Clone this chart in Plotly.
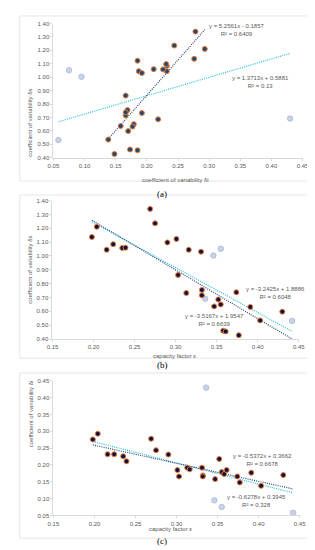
import plotly.graph_objects as go

# ---- data ----
# main stations
eps = [0.198, 0.204, 0.216, 0.224, 0.235, 0.239, 0.269, 0.275, 0.290, 0.301, 0.303, 0.313, 0.316,
       0.331, 0.332, 0.332, 0.347, 0.352, 0.355, 0.358, 0.361, 0.374, 0.377, 0.391, 0.403, 0.430]
delta_s = [1.137, 1.211, 1.045, 1.085, 1.058, 1.060, 1.340, 1.236, 1.098, 1.123, 0.863, 0.733, 1.045,
           1.031, 0.755, 0.716, 0.636, 0.686, 0.650, 0.461, 0.455, 0.738, 0.428, 0.632, 0.535, 0.598]
delta_i = [0.276, 0.293, 0.232, 0.232, 0.226, 0.211, 0.278, 0.244, 0.231, 0.185, 0.166, 0.192, 0.187,
           0.192, 0.169, 0.166, 0.158, 0.218, 0.179, 0.173, 0.185, 0.166, 0.148, 0.177, 0.138, 0.170]
# outlier stations (light markers)
eps_o = [0.336, 0.346, 0.355, 0.442]
delta_s_o = [0.692, 1.003, 1.052, 0.531]
delta_i_o = [0.430, 0.095, 0.075, 0.058]

# trend line equations: (slope, intercept, R2)
fit_a_main = (5.2561, -0.1857, "0.6409")
fit_a_all = (1.3713, 0.5881, "0.13")
fit_b_main = (-3.5167, 1.9547, "0.6639")
fit_b_all = (-3.2425, 1.8886, "0.6048")
fit_c_main = (-0.5372, 0.3662, "0.6678")
fit_c_all = (-0.6278, 0.3945, "0.328")

W, H = 315, 550
NAVY_A = "#1b4a7a"
NAVY = "#0c1048"
ORANGE = "#ed7d31"
LIGHT = "#c9d3e8"
LIGHT_LINE = "#aab7d0"
TREND_DARK = "#34456e"
TREND_CYAN = "#22c0e0"
GREY = "#595959"
FONT = "Liberation Sans, Arial, sans-serif"

fig = go.Figure()


def px2paper_x(p):
    return p / W


def px2paper_y(p):
    return 1 - p / H


def add_panel(n, xs, ys, xo, yo, fmain, fall, fill, main_range, all_range):
    xa = "x" if n == 1 else f"x{n}"
    ya = "y" if n == 1 else f"y{n}"
    # trend lines
    for (m, b, _), rng, col in [(fall, all_range, TREND_CYAN), (fmain, main_range, TREND_DARK)]:
        lx = [rng[0], rng[1]]
        ly = [m * v + b for v in lx]
        fig.add_trace(go.Scatter(x=lx, y=ly, mode="lines", xaxis=xa, yaxis=ya,
                                 line=dict(color=col, width=1.2, dash="1px,1.2px"),
                                 showlegend=False, hoverinfo="skip"))
    fig.add_trace(go.Scatter(x=xo, y=yo, mode="markers", xaxis=xa, yaxis=ya, cliponaxis=False,
                             marker=dict(size=5.5, color=LIGHT, line=dict(color=LIGHT_LINE, width=0.8)),
                             showlegend=False))
    fig.add_trace(go.Scatter(x=xs, y=ys, mode="markers", xaxis=xa, yaxis=ya, cliponaxis=False,
                             marker=dict(size=5, color=fill, line=dict(color=ORANGE, width=1)),
                             showlegend=False))


all_di = delta_i + delta_i_o
all_eps = eps + eps_o
add_panel(1, delta_i, delta_s, delta_i_o, delta_s_o, fit_a_main, fit_a_all, NAVY_A,
          (min(delta_i), max(delta_i)), (min(all_di), max(all_di)))
add_panel(2, eps, delta_s, eps_o, delta_s_o, fit_b_main, fit_b_all, NAVY,
          (min(all_eps), max(all_eps)), (min(all_eps), max(all_eps)))
add_panel(3, eps, delta_i, eps_o, delta_i_o, fit_c_main, fit_c_all, NAVY,
          (min(all_eps), max(all_eps)), (min(all_eps), max(all_eps)))

# panel pixel boxes: (x0, x1, ytop, ybottom)
boxes = {1: (41, 300, 12.7, 148.3), 2: (40, 296, 191.7, 331.7), 3: (41, 297, 374, 510)}
xranges = {1: [0.05, 0.45], 2: [0.15, 0.45], 3: [0.15, 0.45]}
yranges = {1: [0.40, 1.40], 2: [0.40, 1.40], 3: [0.05, 0.45]}
ydt = {1: 0.1, 2: 0.1, 3: 0.05}

layout = {}
for n in (1, 2, 3):
    x0, x1, yt, yb = boxes[n]
    sx = "xaxis" if n == 1 else f"xaxis{n}"
    sy = "yaxis" if n == 1 else f"yaxis{n}"
    anchor_y = "y" if n == 1 else f"y{n}"
    anchor_x = "x" if n == 1 else f"x{n}"
    layout[sx] = dict(domain=[px2paper_x(x0), px2paper_x(x1)], range=xranges[n], anchor=anchor_y,
                      dtick=0.05, tick0=0.05, tickformat=".2f", showgrid=False, zeroline=False,
                      showline=True, linecolor="#d9d9d9", linewidth=1,
                      ticks="outside", ticklen=2, tickcolor="#d9d9d9",
                      tickfont=dict(size=6, color=GREY, family=FONT))
    layout[sy] = dict(domain=[px2paper_y(yb), px2paper_y(yt)], range=yranges[n], anchor=anchor_x,
                      dtick=ydt[n], tick0=0.0, tickformat=".2f", showgrid=False, zeroline=False,
                      showline=True, linecolor="#d9d9d9", linewidth=1,
                      ticks="outside", ticklen=2, tickcolor="#d9d9d9",
                      tickfont=dict(size=6, color=GREY, family=FONT))

annotations = []


def eq_text(f):
    m, b, r2 = f
    sign = "+" if b >= 0 else "-"
    return f"y = {m:.4f}x {sign} {abs(b):.4f}<br>R² = {r2}"


# equation labels (data coordinates)
eq_pos = [("x", "y", 0.345, 1.35, fit_a_main), ("x", "y", 0.383, 0.968, fit_a_all),
          ("x2", "y2", 0.422, 0.73, fit_b_all), ("x2", "y2", 0.348, 0.54, fit_b_main),
          ("x3", "y3", 0.405, 0.216, fit_c_main), ("x3", "y3", 0.397, 0.092, fit_c_all)]
for xr, yr, xv, yv, f in eq_pos:
    annotations.append(dict(xref=xr, yref=yr, x=xv, y=yv, text=eq_text(f), showarrow=False,
                            align="center", font=dict(size=6, color=GREY, family=FONT)))

# axis titles
xt = [("coefficient of variability δi", 167.5, 166), ("capacity factor ε", 167, 349),
      ("capacity factor ε", 163, 529)]
for t, px, py in xt:
    annotations.append(dict(xref="paper", yref="paper", x=px2paper_x(px), y=px2paper_y(py), text=t,
                            showarrow=False, font=dict(size=6, color=GREY, family=FONT)))
yt = [("coefficient of variability δs", 12, 77), ("coefficient of variability δs", 12, 262),
      ("coefficient of variability δi", 12, 443)]
for t, px, py in yt:
    annotations.append(dict(xref="paper", yref="paper", x=px2paper_x(px), y=px2paper_y(py), text=t,
                            textangle=-90, showarrow=False, font=dict(size=6, color=GREY, family=FONT)))

# panel letters
for t, py in [("(a)", 178), ("(b)", 358), ("(c)", 543)]:
    annotations.append(dict(xref="paper", yref="paper", x=px2paper_x(154), y=px2paper_y(py), text=t,
                            showarrow=False, font=dict(size=9, color="black", family="Liberation Serif, serif")))

shapes = []
for y0, y1 in [(5, 172), (186, 351), (366, 533)]:
    shapes.append(dict(type="rect", xref="paper", yref="paper", x0=px2paper_x(6), x1=px2paper_x(306.7),
                       y0=px2paper_y(y1), y1=px2paper_y(y0), line=dict(color="#e6e6e6", width=1),
                       fillcolor="rgba(0,0,0,0)", layer="below"))

fig.update_layout(width=W, height=H, margin=dict(l=0, r=0, t=0, b=0),
                  paper_bgcolor="white", plot_bgcolor="white",
                  annotations=annotations, shapes=shapes, showlegend=False, **layout)

fig.write_html("out.html")
